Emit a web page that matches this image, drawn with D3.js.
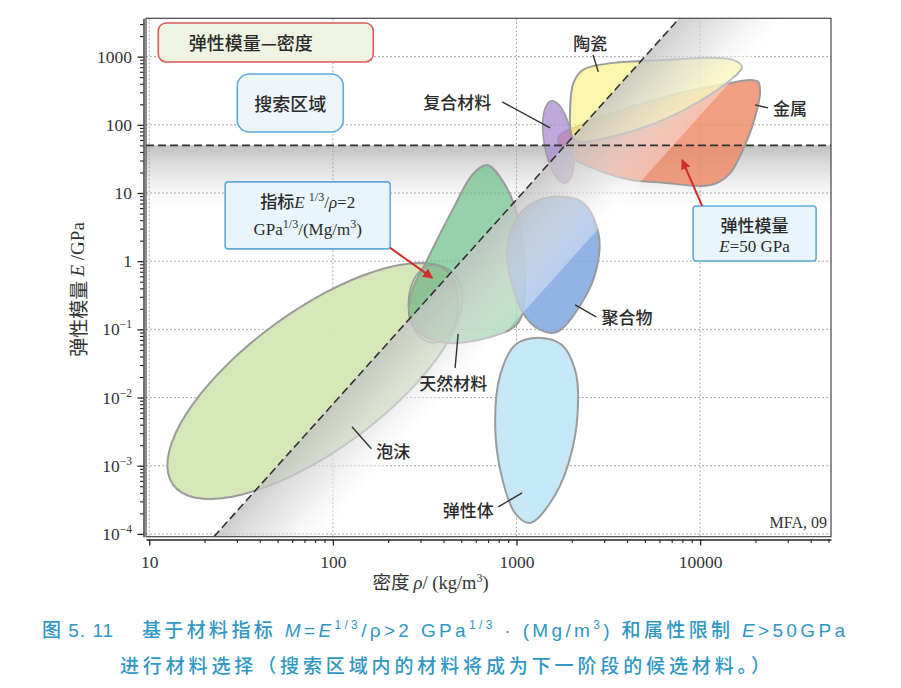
<!DOCTYPE html>
<html>
<head>
<meta charset="utf-8">
<script src="https://cdn.jsdelivr.net/npm/d3@7"></script>
<style>
  body { margin: 0; background: #fff; }
  svg { display: block; }
</style>
</head>
<body>
<div id="chart"></div>
<script>
// 弹性模量—密度选择图 (E - rho), 对数坐标

const width = 901;
const height = 688;

const xTickValues = [10, 100, 1000, 10000];
const yTickValues = [1000, 100, 10, 1, 0.1, 0.01, 0.001, 0.0001];
const modulusLimit = 50;   // E > 50 GPa
const indexValue = 2;      // E^(1/3)/rho = 2 GPa^(1/3)/(Mg/m^3)

// ellipses: centre, end of one semi-axis, end of the conjugate semi-axis  [rho kg/m3, E GPa]
const foamsEllipse = { center: [80, 0.0175], a: [475, 0.58], b: [133, 0.0026] };
const roundEllipse = { center: [352, 0.236], a: [481, 0.236], b: [352, 0.88] };
const compositesEllipse = { center: [1690, 56], a: [1585, 224], b: [2035, 51] };

// bubble outlines [rho kg/m3, E GPa]
const ceramicsOutline = [
  [2040, 410], [2300, 640], [3360, 810], [6300, 890], [11800, 960], [15100, 895],
  [16900, 710], [14600, 455], [9600, 210], [6300, 118], [4160, 79], [2750, 60],
  [2220, 56], [2010, 66], [1960, 183]
];
const metalsOutline = [
  [18700, 455], [20700, 426], [21200, 303], [19500, 107], [17100, 43], [14600, 19.7],
  [12400, 14.1], [10400, 12.7], [6300, 14.1], [4160, 15.6], [2750, 21.8], [1960, 34],
  [1690, 54], [1730, 71], [2035, 90], [4160, 183], [7800, 294], [14600, 412]
];
const naturalOutline = [
  [692, 25.8], [867, 13.1], [1010, 4.8], [1087, 1.46], [1110, 0.38], [1020, 0.124],
  [719, 0.077], [384, 0.065], [270, 0.116], [264, 0.30], [330, 1.12], [463, 6.7], [574, 18.4]
];
const polymersOutline = [
  [1524, 8.75], [2300, 7.2], [2790, 2.6], [2790, 1.04], [2430, 0.34], [1663, 0.092],
  [1345, 0.098], [1087, 0.174], [890, 1.04], [924, 2.6], [1087, 5.65]
];
const elastomersOutline = [
  [1345, 0.075], [1770, 0.059], [2085, 0.0254], [2166, 0.0092], [2010, 0.0017], [1620, 0.00037],
  [1186, 0.000145], [984, 0.0002], [815, 0.00087], [765, 0.0047], [815, 0.0215], [984, 0.059]
];

const materialNames = ["陶瓷", "复合材料", "金属", "聚合物", "天然材料", "泡沫", "弹性体"];
const labelAnchors = [[2518, 1589], [475, 217], [30900, 177], [4000, 0.152], [452, 0.0164], [213, 0.00165], [546, 0.000225]];
const leaderLines = [
  [[2612, 1059], [2790, 597]],
  [[836, 217], [1524, 90]],
  [[19900, 196], [23400, 177]],
  [[2085, 0.229], [2716, 0.152]],
  [[481, 0.0857], [463, 0.0272]],
  [[127, 0.00372], [162, 0.00177]],
  [[795, 0.000249], [1074, 0.0004]]
];

const boxCenters = { title: [43.1, 1616], search: [58.6, 209], index: [72.9, 4.69], modulus: [19800, 2.55] };
const indexArrow = [[205, 1.57], [348, 0.569]];
const modulusArrow = [[10260, 6.47], [7980, 30.5]];

const serif = "'Liberation Serif', 'Times New Roman', serif";
const cjk = "'Noto Sans CJK SC', sans-serif";

const svg = d3.select("#chart").append("svg").attr("width", width).attr("height", height);
svg.append("rect").attr("width", width).attr("height", height).attr("fill", "#fff");

const x = d3.scaleLog().domain([9.6, 51600]).range([146, 831]);
const y = d3.scaleLog().domain([9.1e-5, 3650]).range([536.7, 18.3]);
const [x0, x1] = x.range();
const [y1, y0] = y.range();

const defs = svg.append("defs");
defs.append("clipPath").attr("id", "plotClip")
  .append("rect").attr("x", x0).attr("y", y0).attr("width", x1 - x0).attr("height", y1 - y0);

const plot = svg.append("g").attr("clip-path", "url(#plotClip)");

// horizontal shading below E = 50 GPa
const yLimit = y(modulusLimit);
const hGrad = defs.append("linearGradient").attr("id", "hShade")
  .attr("gradientUnits", "userSpaceOnUse")
  .attr("x1", 0).attr("x2", 0).attr("y1", yLimit).attr("y2", yLimit + 70);
hGrad.append("stop").attr("offset", 0).attr("stop-color", "#bababa").attr("stop-opacity", 0.9);
hGrad.append("stop").attr("offset", 0.5).attr("stop-color", "#e0e0e0").attr("stop-opacity", 0.6);
hGrad.append("stop").attr("offset", 1).attr("stop-color", "#ffffff").attr("stop-opacity", 0);
plot.append("rect").attr("x", x0).attr("y", yLimit).attr("width", x1 - x0).attr("height", 70)
  .attr("fill", "url(#hShade)");

// grid
const gridX = [10, 100, 1000, 10000];
plot.selectAll(".gx").data(gridX).join("line")
  .attr("x1", d => x(d)).attr("x2", d => x(d)).attr("y1", y0).attr("y2", y1)
  .attr("stroke", "#a8a8a8").attr("stroke-width", 1).attr("stroke-dasharray", "2,2");
plot.selectAll(".gy").data(yTickValues).join("line")
  .attr("x1", x0).attr("x2", x1).attr("y1", d => y(d)).attr("y2", d => y(d))
  .attr("stroke", "#a8a8a8").attr("stroke-width", 1).attr("stroke-dasharray", "2,2");

// bubbles
const outline = d3.line().x(d => x(d[0])).y(d => y(d[1])).curve(d3.curveCatmullRomClosed.alpha(0.5));

function ellipsePath(e) {
  const cx = x(e.center[0]), cy = y(e.center[1]);
  const ux = x(e.a[0]) - cx, uy = y(e.a[1]) - cy;
  const vx = x(e.b[0]) - cx, vy = y(e.b[1]) - cy;
  const pts = d3.range(0, 72).map(i => {
    const t = i / 72 * 2 * Math.PI;
    return [cx + ux * Math.cos(t) + vx * Math.sin(t), cy + uy * Math.cos(t) + vy * Math.sin(t)];
  });
  return d3.line().curve(d3.curveLinearClosed)(pts);
}

const edge = "#9b9b9b";
plot.append("path").attr("d", ellipsePath(foamsEllipse))
  .attr("fill", "#d3e5b4").attr("fill-opacity", 0.95).attr("stroke", edge).attr("stroke-width", 2);
plot.append("path").attr("d", outline(naturalOutline))
  .attr("fill", "#6fbf88").attr("fill-opacity", 0.72).attr("stroke", edge).attr("stroke-width", 2);
plot.append("path").attr("d", ellipsePath(roundEllipse))
  .attr("fill", "#8fb58f").attr("fill-opacity", 0.35).attr("stroke", edge).attr("stroke-width", 1.5);
plot.append("path").attr("d", outline(polymersOutline))
  .attr("fill", "#7ea7df").attr("fill-opacity", 0.85).attr("stroke", edge).attr("stroke-width", 2);
plot.append("path").attr("d", outline(elastomersOutline))
  .attr("fill", "#c6e7f5").attr("stroke", edge).attr("stroke-width", 2);
plot.append("path").attr("d", outline(metalsOutline))
  .attr("fill", "#ef8663").attr("fill-opacity", 0.8).attr("stroke", edge).attr("stroke-width", 2);
plot.append("path").attr("d", outline(ceramicsOutline))
  .attr("fill", "#f9f28c").attr("fill-opacity", 0.72).attr("stroke", edge).attr("stroke-width", 2);
plot.append("path").attr("d", ellipsePath(compositesEllipse))
  .attr("fill", "#a98bd0").attr("fill-opacity", 0.75).attr("stroke", edge).attr("stroke-width", 1.5);

// index line  E^(1/3)/rho = 2  ->  rho = 1000 * E^(1/3) / 2
const rhoOnIndex = e => 1000 * Math.cbrt(e) / indexValue;
const eLow = y.domain()[0], eHigh = y.domain()[1];
const pA = [x(rhoOnIndex(eLow)), y(eLow)];
const pB = [x(rhoOnIndex(eHigh)), y(eHigh)];
const bandShift = 108;
const dx = pB[0] - pA[0], dy = pB[1] - pA[1];
const len = Math.hypot(dx, dy);
const nx = -dy / len, ny = dx / len;
const perp = bandShift * nx;
const dGrad = defs.append("linearGradient").attr("id", "dShade")
  .attr("gradientUnits", "userSpaceOnUse")
  .attr("x1", pA[0]).attr("y1", pA[1])
  .attr("x2", pA[0] + nx * perp).attr("y2", pA[1] + ny * perp);
dGrad.append("stop").attr("offset", 0).attr("stop-color", "#c2c2c2").attr("stop-opacity", 0.8);
dGrad.append("stop").attr("offset", 0.55).attr("stop-color", "#e2e2e2").attr("stop-opacity", 0.62);
dGrad.append("stop").attr("offset", 1).attr("stop-color", "#ffffff").attr("stop-opacity", 0.35);
plot.append("path")
  .attr("d", d3.line().curve(d3.curveLinearClosed)([pA, pB, [pB[0] + bandShift, pB[1]], [pA[0] + bandShift, pA[1]]]))
  .attr("fill", "url(#dShade)");

// dashed limits
plot.append("line").attr("x1", pA[0]).attr("y1", pA[1]).attr("x2", pB[0]).attr("y2", pB[1])
  .attr("stroke", "#333").attr("stroke-width", 1.6).attr("stroke-dasharray", "8,4");
plot.append("line").attr("x1", x0).attr("x2", x1).attr("y1", yLimit).attr("y2", yLimit)
  .attr("stroke", "#333").attr("stroke-width", 1.6).attr("stroke-dasharray", "8,4");

// frame
svg.append("rect").attr("x", x0).attr("y", y0).attr("width", x1 - x0).attr("height", y1 - y0)
  .attr("fill", "none").attr("stroke", "#444").attr("stroke-width", 1.2);

// axes
const yMinor = y.ticks().filter(d => !yTickValues.some(v => Math.abs(v - d) / v < 1e-6));
const xMinor = x.ticks().filter(d => !xTickValues.includes(d));

const yAxisX = x0 - 2.5;
const xAxisY = y1 + 2.8;

svg.append("g").attr("transform", `translate(${yAxisX},0)`)
  .call(d3.axisLeft(y).tickValues(yMinor).tickSize(3.5).tickFormat(""))
  .call(g => g.select(".domain").remove())
  .call(g => g.selectAll("line").attr("stroke", "#222").attr("stroke-width", 1.1));

const gy = svg.append("g").attr("transform", `translate(${yAxisX},0)`)
  .call(d3.axisLeft(y).tickValues(yTickValues).tickSize(6).tickSizeOuter(0).tickPadding(5.5));
gy.select(".domain").attr("stroke", "#222").attr("stroke-width", 1.3);
gy.selectAll("line").attr("stroke", "#222").attr("stroke-width", 1.3);
gy.selectAll(".tick text")
  .attr("font-family", serif).attr("font-size", 17.5).attr("fill", "#333")
  .each(function (d) {
    const t = d3.select(this).text(null);
    if (d >= 1) {
      t.text(String(d));
    } else {
      t.append("tspan").text("10");
      t.append("tspan").attr("dy", -7).attr("font-size", 11.5).text("−" + Math.round(-Math.log10(d)));
    }
  });

svg.append("g").attr("transform", `translate(0,${xAxisY})`)
  .call(d3.axisBottom(x).tickValues(xMinor).tickSize(3.5).tickFormat(""))
  .call(g => g.select(".domain").remove())
  .call(g => g.selectAll("line").attr("stroke", "#222").attr("stroke-width", 1.1));

const gx = svg.append("g").attr("transform", `translate(0,${xAxisY})`)
  .call(d3.axisBottom(x).tickValues(xTickValues).tickSize(6).tickSizeOuter(0).tickPadding(10.5)
    .tickFormat(d3.format("d")));
gx.select(".domain").attr("stroke", "#222").attr("stroke-width", 1.3);
gx.selectAll("line").attr("stroke", "#222").attr("stroke-width", 1.3);
gx.selectAll(".tick text").attr("font-family", serif).attr("font-size", 17.5).attr("fill", "#333");

// axis titles
const yTitle = svg.append("text")
  .attr("transform", `translate(77,${(y0 + y1) / 2 + 12}) rotate(-90)`)
  .attr("text-anchor", "middle").attr("dominant-baseline", "central")
  .attr("font-size", 19).attr("fill", "#333");
yTitle.append("tspan").attr("font-family", cjk).text("弹性模量 ");
yTitle.append("tspan").attr("font-family", serif).attr("font-style", "italic").text("E");
yTitle.append("tspan").attr("font-family", serif).text(" /GPa");

const xTitle = svg.append("text")
  .attr("x", (x0 + x1) / 2 - 58).attr("y", 589)
  .attr("text-anchor", "middle").attr("font-size", 18.5).attr("fill", "#333");
xTitle.append("tspan").attr("font-family", cjk).text("密度 ");
xTitle.append("tspan").attr("font-family", serif).attr("font-style", "italic").text("ρ");
xTitle.append("tspan").attr("font-family", serif).text("/ (kg/m");
xTitle.append("tspan").attr("font-family", serif).attr("font-size", 12).attr("dy", -7).text("3");
xTitle.append("tspan").attr("font-family", serif).attr("dy", 7).text(")");

svg.append("text").attr("x", x1 - 4).attr("y", y1 - 9)
  .attr("text-anchor", "end").attr("font-family", serif).attr("font-size", 16).attr("fill", "#333")
  .text("MFA, 09");

// material labels and leaders
const labelGroup = svg.append("g");
labelGroup.selectAll("line").data(leaderLines).join("line")
  .attr("x1", d => x(d[0][0])).attr("y1", d => y(d[0][1]))
  .attr("x2", d => x(d[1][0])).attr("y2", d => y(d[1][1]))
  .attr("stroke", "#333").attr("stroke-width", 1.4);
labelGroup.selectAll("text").data(materialNames).join("text")
  .attr("x", (d, i) => x(labelAnchors[i][0])).attr("y", (d, i) => y(labelAnchors[i][1]))
  .attr("text-anchor", "middle").attr("dominant-baseline", "central")
  .attr("font-family", cjk).attr("font-weight", 500).attr("font-size", 17).attr("fill", "#2a2a2a")
  .text(d => d);

// annotation boxes
function box(center, w, h, r, stroke, fill) {
  const cx = x(center[0]), cy = y(center[1]);
  svg.append("rect").attr("x", cx - w / 2).attr("y", cy - h / 2).attr("width", w).attr("height", h)
    .attr("rx", r).attr("fill", fill).attr("stroke", stroke).attr("stroke-width", 1.6);
  return [cx, cy];
}

const [tcx, tcy] = box(boxCenters.title, 215, 39, 8, "#de5a5c", "#eef3e2");
svg.append("text").attr("x", tcx - 15).attr("y", tcy).attr("text-anchor", "middle")
  .attr("dominant-baseline", "central").attr("font-family", cjk).attr("font-weight", 500)
  .attr("font-size", 18).attr("fill", "#2a2a2a")
  .text("弹性模量—密度");

const [scx, scy] = box(boxCenters.search, 106, 58, 12, "#5eaad8", "#eef6fc");
svg.append("text").attr("x", scx).attr("y", scy).attr("text-anchor", "middle")
  .attr("dominant-baseline", "central").attr("font-family", cjk).attr("font-weight", 500)
  .attr("font-size", 18).attr("fill", "#2a2a2a")
  .text("搜索区域");

const [icx, icy] = box(boxCenters.index, 165, 67, 3, "#5eaad8", "#e9f5fc");
const it1 = svg.append("text").attr("x", icx).attr("y", icy - 7).attr("text-anchor", "middle")
  .attr("font-size", 17).attr("fill", "#2a2a2a");
it1.append("tspan").attr("font-family", cjk).attr("font-weight", 500).text("指标");
it1.append("tspan").attr("font-family", serif).attr("font-style", "italic").text("E ");
it1.append("tspan").attr("font-family", serif).attr("font-size", 12).attr("dy", -7).text("1/3");
it1.append("tspan").attr("font-family", serif).attr("dy", 7).text("/");
it1.append("tspan").attr("font-family", serif).attr("font-style", "italic").text("ρ");
it1.append("tspan").attr("font-family", serif).text("=2");
const it2 = svg.append("text").attr("x", icx).attr("y", icy + 20).attr("text-anchor", "middle")
  .attr("font-family", serif).attr("font-size", 17).attr("fill", "#2a2a2a");
it2.append("tspan").text("GPa");
it2.append("tspan").attr("font-size", 12).attr("dy", -7).text("1/3");
it2.append("tspan").attr("dy", 7).text("/(Mg/m");
it2.append("tspan").attr("font-size", 12).attr("dy", -7).text("3");
it2.append("tspan").attr("dy", 7).text(")");

const [mcx, mcy] = box(boxCenters.modulus, 123, 55, 3, "#5eaad8", "#e9f5fc");
svg.append("text").attr("x", mcx).attr("y", mcy - 9).attr("text-anchor", "middle")
  .attr("dominant-baseline", "central").attr("font-family", cjk).attr("font-weight", 500)
  .attr("font-size", 17).attr("fill", "#2a2a2a")
  .text("弹性模量");
const mt2 = svg.append("text").attr("x", mcx).attr("y", mcy + 19).attr("text-anchor", "middle")
  .attr("font-family", serif).attr("font-size", 17).attr("fill", "#2a2a2a");
mt2.append("tspan").attr("font-style", "italic").text("E");
mt2.append("tspan").text("=50 GPa");

// red arrows
defs.append("marker").attr("id", "redHead").attr("viewBox", "0 0 10 10")
  .attr("refX", 9).attr("refY", 5).attr("markerWidth", 5).attr("markerHeight", 5)
  .attr("markerUnits", "strokeWidth").attr("orient", "auto")
  .append("path").attr("d", "M0,0 L10,5 L0,10 z").attr("fill", "#d42b2b");
[indexArrow, modulusArrow].forEach(a => {
  svg.append("line")
    .attr("x1", x(a[0][0])).attr("y1", y(a[0][1])).attr("x2", x(a[1][0])).attr("y2", y(a[1][1]))
    .attr("stroke", "#d42b2b").attr("stroke-width", 2).attr("marker-end", "url(#redHead)");
});

// caption
const capColor = "#2f97c4";
const capFont = "'Liberation Sans', 'Noto Sans CJK SC', sans-serif";

function spread(sel, target) {
  sel.attr("letter-spacing", 0);
  const n = sel.text().length;
  const w = sel.node().getComputedTextLength();
  sel.attr("letter-spacing", Math.max(0, (target - w) / (n - 1)));
}

svg.append("text").attr("x", 42).attr("y", 637)
  .attr("font-family", capFont).attr("font-weight", 500).attr("font-size", 19).attr("fill", capColor)
  .attr("letter-spacing", 1)
  .text("图 5. 11");

const cap1 = svg.append("text").attr("x", 142).attr("y", 637)
  .attr("font-family", capFont).attr("font-weight", 500).attr("font-size", 19).attr("fill", capColor);
cap1.append("tspan").text("基于材料指标 ");
cap1.append("tspan").attr("font-style", "italic").text("M");
cap1.append("tspan").text("=");
cap1.append("tspan").attr("font-style", "italic").text("E");
cap1.append("tspan").attr("font-size", 12).attr("dy", -8).text("1/3");
cap1.append("tspan").attr("dy", 8).text("/ρ>2 GPa");
cap1.append("tspan").attr("font-size", 12).attr("dy", -8).text("1/3");
cap1.append("tspan").attr("dy", 8).text(" · (Mg/m");
cap1.append("tspan").attr("font-size", 12).attr("dy", -8).text("3");
cap1.append("tspan").attr("dy", 8).text(") 和属性限制 ");
cap1.append("tspan").attr("font-style", "italic").text("E");
cap1.append("tspan").text(">50GPa");
spread(cap1, 703);

const cap2 = svg.append("text").attr("x", 120).attr("y", 673)
  .attr("font-family", capFont).attr("font-weight", 500).attr("font-size", 19).attr("fill", capColor)
  .text("进行材料选择（搜索区域内的材料将成为下一阶段的候选材料。）");
spread(cap2, 650);
</script>
</body>
</html>
